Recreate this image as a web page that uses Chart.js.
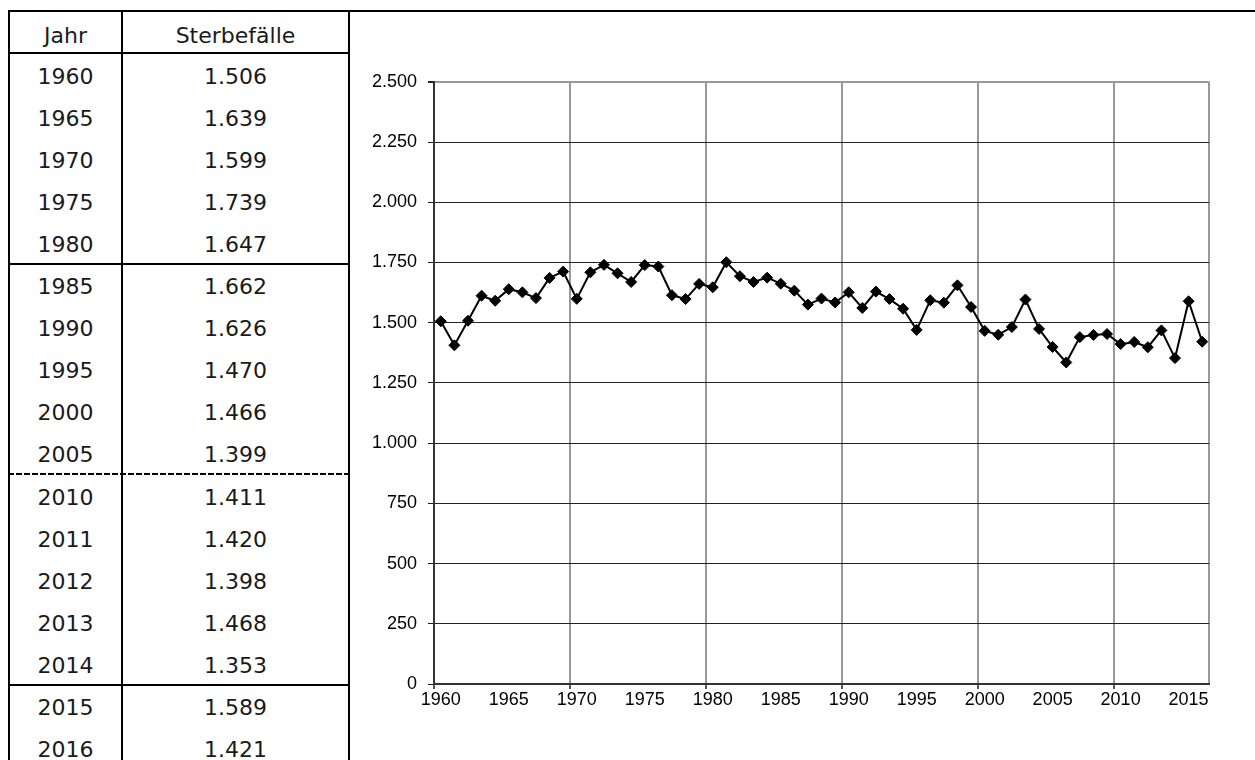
<!DOCTYPE html>
<html>
<head>
<meta charset="utf-8">
<script src="https://cdn.jsdelivr.net/npm/chart.js@4"></script>
<style>
  html, body { margin: 0; padding: 0; background: #fff; width: 1255px; height: 760px; overflow: hidden; }
  .line { position: absolute; background: #000; }
  .dash { position: absolute; height: 2px;
    background: repeating-linear-gradient(90deg, #000 0 6px, transparent 6px 8px); }
  .cell { position: absolute; text-align: center; font-family: "DejaVu Sans"; font-size: 22px;
    line-height: 42px; height: 42px; color: #1a1a1a; white-space: nowrap; }
  #chartBox { position: absolute; left: 360px; top: 60px; width: 870px; height: 682px; }
</style>
</head>
<body>
<div id="table"></div>
<div id="chartBox"><canvas id="chart"></canvas></div>
<script>
const years = ['1960','1961','1962','1963','1964','1965','1966','1967','1968','1969',
  '1970','1971','1972','1973','1974','1975','1976','1977','1978','1979',
  '1980','1981','1982','1983','1984','1985','1986','1987','1988','1989',
  '1990','1991','1992','1993','1994','1995','1996','1997','1998','1999',
  '2000','2001','2002','2003','2004','2005','2006','2007','2008','2009',
  '2010','2011','2012','2013','2014','2015','2016'];
const deaths = [1506, 1406, 1508, 1612, 1591, 1639, 1626, 1602, 1686, 1712,
  1599, 1709, 1740, 1705, 1669, 1739, 1733, 1614, 1598, 1661,
  1647, 1751, 1693, 1669, 1687, 1662, 1633, 1575, 1600, 1584,
  1626, 1561, 1629, 1598, 1558, 1470, 1593, 1583, 1655, 1565,
  1466, 1450, 1482, 1596, 1474, 1399, 1335, 1440, 1449, 1453,
  1411, 1420, 1398, 1468, 1353, 1589, 1421];

const tableYears = ['1960','1965','1970','1975','1980','1985','1990','1995','2000','2005',
  '2010','2011','2012','2013','2014','2015','2016'];
const tableDeaths = [1506, 1639, 1599, 1739, 1647, 1662, 1626, 1470, 1466, 1399,
  1411, 1420, 1398, 1468, 1353, 1589, 1421];

const xLabelYears = ['1960','1965','1970','1975','1980','1985','1990','1995','2000','2005','2010','2015'];
const gridYears = ['1970','1980','1990','2000','2010'];

function de(n) {
  return String(n).replace(/\B(?=(\d{3})+(?!\d))/g, '.');
}

// table on the left
const tbl = document.getElementById('table');
const ROW_TOP = 53, ROW_H = 42.1;
const rowTop = i => ROW_TOP + ROW_H * i;

function add(cls, style, text) {
  const d = document.createElement('div');
  d.className = cls;
  Object.assign(d.style, style);
  if (text !== undefined) d.textContent = text;
  tbl.appendChild(d);
}

add('line', { left: '8px', top: '10px', width: '1247px', height: '2px' });
[8, 121, 348].forEach(x => add('line', { left: x + 'px', top: '10px', width: '2px', height: '760px' }));
add('line', { left: '8px', top: '52px', width: '342px', height: '2px' });
add('line', { left: '8px', top: (rowTop(5) - 1) + 'px', width: '342px', height: '2px' });
add('dash', { left: '8px', top: (rowTop(10) - 1) + 'px', width: '342px' });
add('line', { left: '8px', top: (rowTop(15) - 1) + 'px', width: '342px', height: '2px' });

add('cell', { left: '10px', width: '111px', top: '15px' }, 'Jahr');
add('cell', { left: '123px', width: '225px', top: '15px' }, 'Sterbefälle');
tableYears.forEach((y, i) => {
  const t = (rowTop(i) + 2.5) + 'px';
  add('cell', { left: '10px', width: '111px', top: t }, y);
  add('cell', { left: '123px', width: '225px', top: t }, de(tableDeaths[i]));
});

// chart on the right
const tickFont = { family: 'Liberation Sans', size: 18 };

new Chart(document.getElementById('chart'), {
  type: 'line',
  data: {
    labels: years,
    datasets: [{
      data: deaths,
      borderColor: '#000',
      borderWidth: 2,
      tension: 0,
      pointStyle: 'rectRot',
      pointRadius: 5.5,
      pointBackgroundColor: '#000',
      pointBorderColor: '#000',
      pointBorderWidth: 1,
    }],
  },
  options: {
    animation: false,
    responsive: true,
    maintainAspectRatio: false,
    layout: { padding: { top: 10, right: 21, left: 0, bottom: 0 } },
    plugins: { legend: { display: false }, tooltip: { enabled: false } },
    scales: {
      x: {
        type: 'category',
        offset: true,
        grid: {
          offset: true,
          lineWidth: 2,
          tickLength: 5,
          tickWidth: 1.5,
          color: (ctx) => {
            if (ctx.index === undefined) return '#999';
            return ctx.index > 0 && gridYears.includes(years[ctx.index]) ? '#999' : 'rgba(0,0,0,0)';
          },
          tickColor: (ctx) => {
            if (ctx.index === undefined) return 'rgba(0,0,0,0)';
            return ctx.index === 0 || gridYears.includes(years[ctx.index]) ? '#222' : 'rgba(0,0,0,0)';
          },
        },
        border: { color: '#333', width: 2 },
        ticks: {
          autoSkip: false,
          maxRotation: 0,
          padding: 0,
          color: '#000',
          font: tickFont,
          callback: (v, i) => xLabelYears.includes(years[i]) ? years[i] : '',
        },
        afterFit: (s) => { s.height = 58; },
      },
      y: {
        min: 0,
        max: 2500,
        grid: {
          color: (ctx) => ctx.tick && ctx.tick.value === 2500 ? '#999' : '#222',
          lineWidth: (ctx) => ctx.tick && ctx.tick.value === 2500 ? 2 : 1,
          tickLength: 6,
          tickColor: '#222',
        },
        border: { color: '#333', width: 2 },
        ticks: {
          stepSize: 250,
          padding: 11,
          color: '#000',
          font: tickFont,
          callback: (v) => de(v),
        },
        afterFit: (s) => { s.width = 74; },
      },
    },
  },
});
</script>
</body>
</html>
